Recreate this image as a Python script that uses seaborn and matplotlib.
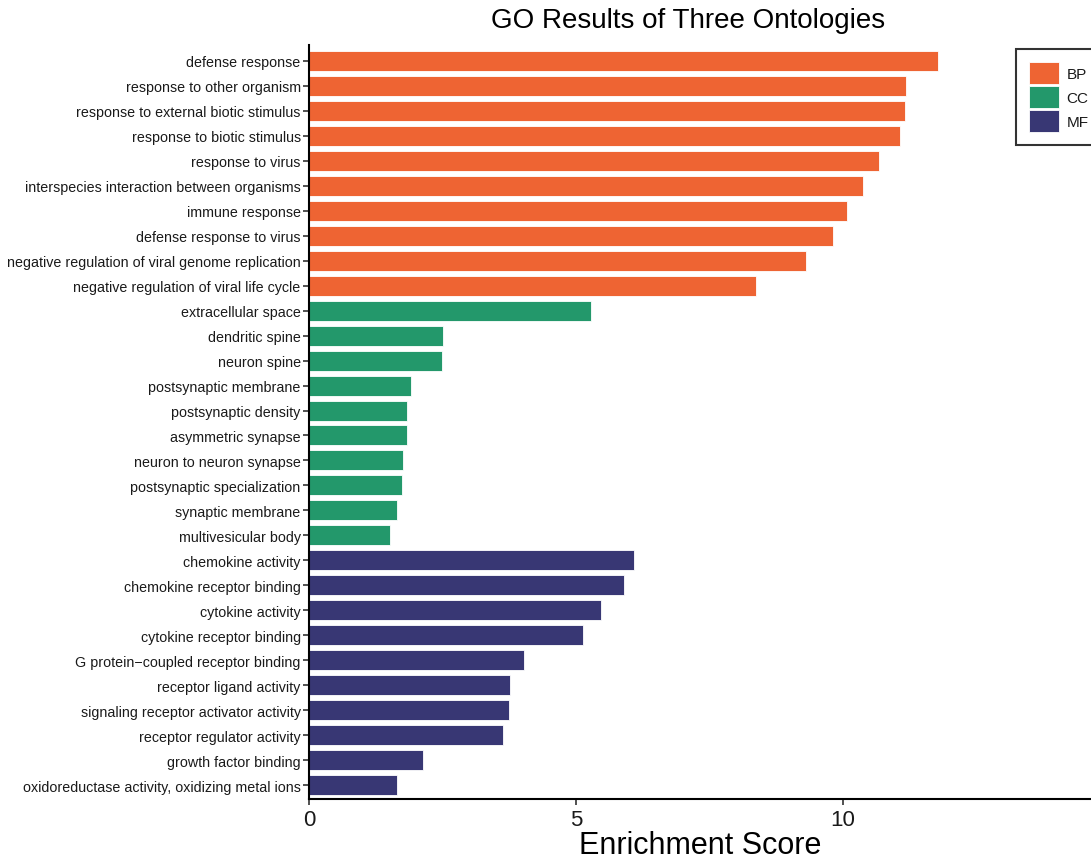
import matplotlib
matplotlib.use("Agg")
import matplotlib.pyplot as plt
import seaborn as sns
import pandas as pd

bp_terms = ["defense response", "response to other organism", "response to external biotic stimulus",
            "response to biotic stimulus", "response to virus", "interspecies interaction between organisms",
            "immune response", "defense response to virus", "negative regulation of viral genome replication",
            "negative regulation of viral life cycle"]
bp_scores = [11.78, 11.18, 11.16, 11.07, 10.67, 10.37, 10.07, 9.81, 9.31, 8.37]

cc_terms = ["extracellular space", "dendritic spine", "neuron spine", "postsynaptic membrane",
            "postsynaptic density", "asymmetric synapse", "neuron to neuron synapse",
            "postsynaptic specialization", "synaptic membrane", "multivesicular body"]
cc_scores = [5.28, 2.51, 2.49, 1.91, 1.84, 1.84, 1.76, 1.74, 1.65, 1.52]

mf_terms = ["chemokine activity", "chemokine receptor binding", "cytokine activity", "cytokine receptor binding",
            "G protein\u2212coupled receptor binding", "receptor ligand activity",
            "signaling receptor activator activity", "receptor regulator activity", "growth factor binding",
            "oxidoreductase activity, oxidizing metal ions"]
mf_scores = [6.09, 5.90, 5.47, 5.13, 4.03, 3.76, 3.75, 3.63, 2.13, 1.65]

ontologies = ["BP", "CC", "MF"]
colors = {"BP": "#EE6433", "CC": "#23986B", "MF": "#383774"}

df = pd.DataFrame({
    "term": bp_terms + cc_terms + mf_terms,
    "score": bp_scores + cc_scores + mf_scores,
    "ontology": ["BP"] * len(bp_terms) + ["CC"] * len(cc_terms) + ["MF"] * len(mf_terms),
})

sns.set_style("white")
plt.rcParams["font.family"] = ["Liberation Sans", "DejaVu Sans"]

fig = plt.figure(figsize=(10.91, 8.62), dpi=100)
ax = fig.add_axes([309 / 1091, 62 / 862, 1 - 309 / 1091, (800 - 46) / 862])

sns.barplot(data=df, y="term", x="score", hue="ontology", hue_order=ontologies,
            palette=colors, dodge=False, orient="h", width=0.8, ax=ax, saturation=1,
            edgecolor="white", linewidth=0.6, legend=True)

ax.set_xlim(0, 14.64)
ax.set_ylim(29.56, -0.64)
ax.set_xticks([0, 5, 10])
ax.set_xticklabels(["0", "5", "10"], fontsize=16, color="#1a1a1a")
ax.tick_params(axis="y", labelsize=10.3, labelcolor="#1a1a1a", length=4, width=1.2,
               color="#333333", pad=2, left=True)
ax.tick_params(axis="x", length=4, width=1.2, color="#333333", pad=3, bottom=True)
ax.set_ylabel("")
ax.set_xlabel("Enrichment Score", fontsize=22, labelpad=0, color="black")
for s in ["top", "right"]:
    ax.spines[s].set_visible(False)
for s in ["left", "bottom"]:
    ax.spines[s].set_visible(True)
    ax.spines[s].set_color("black")
    ax.spines[s].set_linewidth(1.5)

fig.text(688 / 1091, 1 - 21 / 862, "GO Results of Three Ontologies", fontsize=20,
         ha="center", va="center", color="black")

handles, labels = ax.get_legend_handles_labels()
ax.get_legend().remove()
leg = fig.legend(handles, labels, loc="upper left",
                 bbox_to_anchor=(1016 / 1091, 1 - 50 / 862), frameon=True, borderaxespad=0,
                 fontsize=11, handlelength=1.96, handleheight=1.84, borderpad=0.85,
                 labelspacing=0.12, handletextpad=0.5, fancybox=False, labelcolor="#1a1a1a")
leg.get_frame().set_edgecolor("black")
leg.get_frame().set_linewidth(1.5)

fig.savefig("out.png", dpi=100)
